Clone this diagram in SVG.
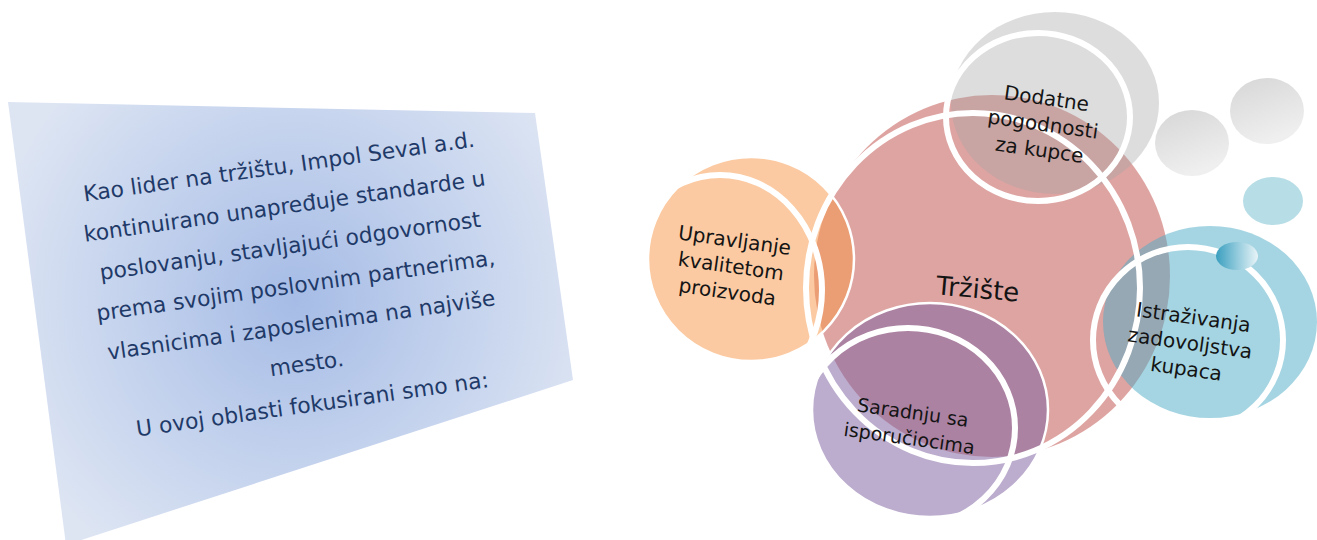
<svg xmlns="http://www.w3.org/2000/svg" width="1317" height="540" viewBox="0 0 1317 540">
<defs>
<radialGradient id="panelGrad" gradientUnits="userSpaceOnUse" cx="295" cy="300" r="310">
<stop offset="0" stop-color="#a6bce6"/>
<stop offset="1" stop-color="#dde5f3"/>
</radialGradient>
<linearGradient id="grayBall" x1="0" y1="0" x2="0.4" y2="1">
<stop offset="0" stop-color="#d6d6d6"/>
<stop offset="1" stop-color="#efefef"/>
</linearGradient>
<linearGradient id="blueBall" x1="0" y1="0" x2="1" y2="0">
<stop offset="0" stop-color="#3a9fbf"/>
<stop offset="1" stop-color="#e8f4f8"/>
</linearGradient>
<style>
.ring{fill:none;stroke:#ffffff;stroke-width:6}
.edge{stroke:#ffffff;stroke-width:2.5}
.lbl{font-family:"DejaVu Sans","Verdana",sans-serif;font-size:20px;fill:#141414;text-anchor:middle}
.ptxt{font-family:"DejaVu Sans","Verdana",sans-serif;font-size:21.8px;fill:#1f3a68;text-anchor:middle}
</style>
</defs>
<rect width="1317" height="540" fill="#ffffff"/>
<g id="panel">
<polygon points="8,102 535,113 573,380 66,545" fill="url(#panelGrad)"/>
<g transform="translate(280,174) rotate(-8)">
<text class="ptxt" x="0" y="0">Kao lider na tržištu, Impol Seval a.d.</text>
<text class="ptxt" x="0" y="40">kontinuirano unapređuje standarde u</text>
<text class="ptxt" x="0" y="80">poslovanju, stavljajući odgovornost</text>
<text class="ptxt" x="0" y="120">prema svojim poslovnim partnerima,</text>
<text class="ptxt" x="0" y="160">vlasnicima i zaposlenima na najviše</text>
<text class="ptxt" x="0" y="199">mesto.</text>
<text class="ptxt" x="0" y="240">U ovoj oblasti fokusirani smo na:</text>
</g>
</g>
<g id="fills">
<ellipse id="fill-trziste" cx="992" cy="276" rx="178" ry="181" fill="#c0504d" fill-opacity="0.52"/>
<ellipse id="fill-upravljanje" class="edge" cx="751" cy="259" rx="103" ry="102" fill="#f79646" fill-opacity="0.5"/>
<ellipse id="fill-dodatne" cx="1055" cy="103" rx="104" ry="91" fill="#a5a5a5" fill-opacity="0.38"/>
<ellipse id="fill-saradnju" class="edge" cx="930" cy="410" rx="118" ry="107" fill="#8064a2" fill-opacity="0.53"/>
<ellipse id="fill-istrazivanja" cx="1210" cy="322" rx="107" ry="96" fill="#4bacc6" fill-opacity="0.5"/>
</g>
<g id="connectors">
<ellipse class="ring" cx="973" cy="288" rx="167" ry="175"/>
<ellipse class="ring" cx="720" cy="290" rx="102" ry="115"/>
<ellipse class="ring" cx="1038" cy="117" rx="92" ry="84"/>
<ellipse class="ring" cx="908" cy="428" rx="107" ry="100"/>
<ellipse class="ring" cx="1188" cy="340" rx="95" ry="93"/>
</g>
<g id="decor">
<ellipse cx="1192" cy="143" rx="37" ry="33" fill="url(#grayBall)"/>
<ellipse cx="1267" cy="111" rx="37" ry="33" fill="url(#grayBall)"/>
<ellipse cx="1273" cy="201" rx="30" ry="24" fill="#b7dde6"/>
<ellipse cx="1237" cy="256" rx="21" ry="14" fill="url(#blueBall)"/>
</g>
<g id="node-trziste">
<text class="lbl" style="font-size:26px" transform="translate(977,298) rotate(5)">Tržište</text>
</g>
<g id="node-upravljanje" transform="translate(731,266) rotate(8)">
<text class="lbl" x="0" y="-19">Upravljanje</text>
<text class="lbl" x="0" y="7">kvalitetom</text>
<text class="lbl" x="0" y="33">proizvoda</text>
</g>
<g id="node-dodatne" transform="translate(1043,124) rotate(8)">
<text class="lbl" x="0" y="-19">Dodatne</text>
<text class="lbl" x="0" y="7">pogodnosti</text>
<text class="lbl" x="0" y="33">za kupce</text>
</g>
<g id="node-istrazivanja" transform="translate(1190,343) rotate(8)">
<text class="lbl" x="0" y="-19">Istraživanja</text>
<text class="lbl" x="0" y="7">zadovoljstva</text>
<text class="lbl" x="0" y="33">kupaca</text>
</g>
<g id="node-saradnju" transform="translate(911,426) rotate(8)">
<text class="lbl" style="font-size:19px" x="0" y="-7">Saradnju sa</text>
<text class="lbl" style="font-size:19px" x="0" y="19">isporučiocima</text>
</g>
</svg>
